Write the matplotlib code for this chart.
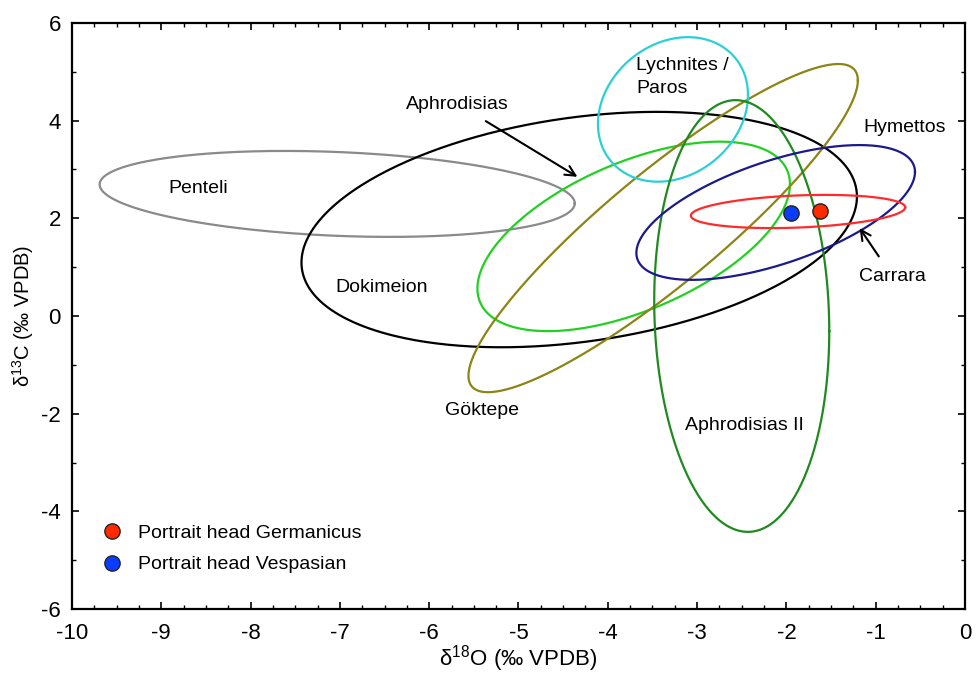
import numpy as np
import matplotlib
matplotlib.use('Agg')
import matplotlib.pyplot as plt

plt.rcParams['font.family'] = ['Liberation Sans', 'DejaVu Sans']
plt.rcParams['mathtext.default'] = 'regular'
plt.rcParams['axes.unicode_minus'] = False

# Ellipse definitions: centre, half-range in x and y, correlation
names = ['Penteli', 'Dokimeion', 'Aphrodisias', 'Göktepe', 'Lychnites / Paros',
         'Aphrodisias II', 'Hymettos', 'Carrara']
cx = [-7.03, -4.32, -3.71, -3.38, -3.27, -2.50, -2.12, -1.87]
cy = [2.50, 1.77, 1.63, 1.80, 4.23, 0.00, 2.12, 2.14]
sx = [2.66, 3.11, 1.75, 2.18, 0.84, 0.98, 1.56, 1.20]
sy = [0.88, 2.41, 1.94, 3.36, 1.48, 4.42, 1.38, 0.34]
rho = [-0.22, 0.28, 0.55, 0.90, 0.20, -0.07, 0.60, 0.25]
colors = ['#8a8a8a', '#000000', '#22d022', '#8c8414', '#2ccfd6',
          '#1f8a1f', '#1a1a8c', '#ff2a2a']

# Samples
sample_names = ['Portrait head Germanicus', 'Portrait head Vespasian']
sample_x = [-1.62, -1.95]
sample_y = [2.15, 2.11]
sample_colors = ['#ff2a00', '#0a3cff']

fig = plt.figure(figsize=(9.79, 6.74), dpi=100)
ax = fig.add_axes([0.0735, 0.0964, 0.9122, 0.8695])

t = np.linspace(0, 2 * np.pi, 400)
for i in range(len(names)):
    x = cx[i] + sx[i] * np.cos(t)
    y = cy[i] + sy[i] * (rho[i] * np.cos(t) + np.sqrt(1 - rho[i] ** 2) * np.sin(t))
    ax.plot(x, y, color=colors[i], lw=1.6)

for i in range(len(sample_names)):
    ax.plot(sample_x[i], sample_y[i], 'o', ms=11, mfc=sample_colors[i], mec='#222222',
            mew=1.0, label=sample_names[i], zorder=5)

fs = 14
ax.text(-8.59, 2.62, 'Penteli', fontsize=fs, ha='center', va='center')
ax.text(-6.53, 0.59, 'Dokimeion', fontsize=fs, ha='center', va='center')
ax.text(-5.41, -1.93, 'Göktepe', fontsize=fs, ha='center', va='center')
ax.text(-2.47, -2.25, 'Aphrodisias II', fontsize=fs, ha='center', va='center')
ax.text(-3.68, 4.90, 'Lychnites /\nParos', fontsize=fs, ha='left', va='center',
        linespacing=1.45)
ax.text(-0.68, 3.85, 'Hymettos', fontsize=fs, ha='center', va='center')
ax.annotate('Aphrodisias', xy=(-4.34, 2.85), xytext=(-5.68, 4.34), fontsize=fs,
            ha='center', va='center',
            arrowprops=dict(arrowstyle='->', color='black', lw=1.5,
                            shrinkA=8, shrinkB=0, mutation_scale=18))
ax.annotate('Carrara', xy=(-1.18, 1.80), xytext=(-0.81, 0.80), fontsize=fs,
            ha='center', va='center',
            arrowprops=dict(arrowstyle='->', color='black', lw=1.5,
                            shrinkA=8, shrinkB=0, mutation_scale=18))

ax.set_xlim(-10, 0)
ax.set_ylim(-6, 6)
ax.set_xticks(np.arange(-10, 1, 1))
ax.set_yticks(np.arange(-6, 7, 2))
ax.set_xticks(np.arange(-10, 0.01, 0.25), minor=True)
ax.set_yticks(np.arange(-6, 6.01, 1), minor=True)
ax.tick_params(which='both', direction='in', top=True, right=True, labelsize=16)
ax.tick_params(which='major', length=5, width=1.2)
ax.tick_params(which='minor', length=3, width=1.0)
ax.tick_params(axis='x', which='major', pad=10)
ax.tick_params(axis='y', which='major', pad=8)
for s in ax.spines.values():
    s.set_linewidth(1.6)

ax.set_xlabel('δ$^{18}$O (‰ VPDB)', fontsize=16)
ax.xaxis.set_label_coords(0.5, -0.058)
ax.set_ylabel('δ$^{13}$C (‰ VPDB)', fontsize=14.5, labelpad=4)

ax.legend(loc='lower left', bbox_to_anchor=(0.004, 0.031), frameon=False, fontsize=14,
          handletextpad=0.3, labelspacing=0.7, numpoints=1)

fig.savefig('out.png', dpi=100)
